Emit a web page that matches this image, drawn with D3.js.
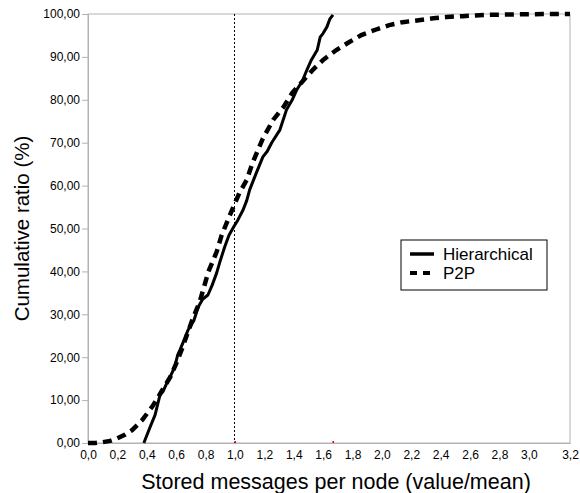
<!DOCTYPE html>
<html>
<head>
<meta charset="utf-8">
<script src="https://cdn.jsdelivr.net/npm/d3@7"></script>
<style>
  body { margin: 0; background: #fff; }
  text { font-family: "Liberation Sans", Arial, sans-serif; fill: #000; }
</style>
</head>
<body>
<script>
// Hierarchical CDF (solid)
const hierX = [0.38, 0.42, 0.456, 0.49, 0.51, 0.537, 0.56, 0.59, 0.61, 0.626, 0.66, 0.68, 0.72, 0.75, 0.78, 0.816, 0.845, 0.875, 0.90, 0.93, 0.96, 0.99, 1.02, 1.055, 1.08, 1.10, 1.14, 1.19, 1.22, 1.25, 1.306, 1.35, 1.39, 1.42, 1.46, 1.49, 1.52, 1.56, 1.58, 1.60, 1.626, 1.645, 1.667];
const hierY = [0, 3.5, 6.5, 11.2, 12, 14, 15.5, 17.7, 20.5, 21.7, 24.5, 26.3, 28.5, 31.7, 33.5, 34.5, 36.8, 39.6, 42.5, 45.7, 48.5, 50.3, 52, 54.3, 56.5, 59, 62.5, 66.7, 68, 70, 73, 77.6, 80, 82.3, 84.5, 87, 89.3, 91.6, 94.6, 95.5, 97, 98.8, 99.8];

// P2P CDF (dashed)
const p2pX = [0, 0.05, 0.1, 0.15, 0.2, 0.25, 0.3, 0.37, 0.44, 0.5, 0.56, 0.6, 0.64, 0.71, 0.76, 0.82, 0.875, 0.91, 0.98, 1.03, 1.08, 1.12, 1.19, 1.26, 1.33, 1.39, 1.455, 1.53, 1.6, 1.69, 1.77, 1.86, 1.97, 2.05, 2.14, 2.24, 2.35, 2.44, 2.55, 2.73, 2.9, 3.1, 3.28];
const p2pY = [0, 0, 0.2, 0.5, 1.1, 1.9, 3, 5.4, 8.6, 12, 15.4, 18.5, 22, 28.7, 32.9, 40, 44.5, 48.5, 54.3, 58.3, 61.3, 65.3, 71, 75.3, 78.3, 81.6, 84.1, 87, 89.3, 91.6, 93.3, 95.1, 96.5, 97.4, 98.1, 98.5, 99.0, 99.3, 99.5, 99.8, 99.9, 100, 100];

const seriesNames = ["Hierarchical", "P2P"];
const xMax = 3.28;
const xTickValues = [0, 0.2, 0.4, 0.6, 0.8, 1.0, 1.2, 1.4, 1.6, 1.8, 2.0, 2.2, 2.4, 2.6, 2.8, 3.0, 3.28];
const xTickLabels = ["0,0", "0,2", "0,4", "0,6", "0,8", "1,0", "1,2", "1,4", "1,6", "1,8", "2,0", "2,2", "2,4", "2,6", "2,8", "3,0", "3,2"];
const yTickValues = [0, 10, 20, 30, 40, 50, 60, 70, 80, 90, 100];
const yTickLabels = ["0,00", "10,00", "20,00", "30,00", "40,00", "50,00", "60,00", "70,00", "80,00", "90,00", "100,00"];
const meanLine = 1.0;
const axisMarks = [1.0, 1.667];

const width = 580, height = 493;
const margin = {top: 14, left: 88, right: 10, bottom: 50};
const axisColor = "#b3b3b3";

const svg = d3.select("body").append("svg")
  .attr("width", width)
  .attr("height", height);

const x = d3.scaleLinear().domain([0, xMax]).range([margin.left, width - margin.right]);
const y = d3.scaleLinear().domain([0, 100]).range([height - margin.bottom, margin.top]);

// plot frame
svg.append("rect")
  .attr("x", x(0)).attr("y", y(100))
  .attr("width", x(xMax) - x(0)).attr("height", y(0) - y(100))
  .attr("fill", "none").attr("stroke", axisColor);

// y axis
const yAxis = d3.axisLeft(y).tickValues(yTickValues)
  .tickFormat((d, i) => yTickLabels[i]).tickSize(6).tickPadding(2);
const gy = svg.append("g").attr("transform", `translate(${x(0)},0)`).call(yAxis);
gy.select(".domain").attr("stroke", axisColor);
gy.selectAll(".tick line").attr("stroke", axisColor);
gy.selectAll(".tick text").style("font-size", "12px").attr("fill", "#000");

// x axis (no tick marks)
const xAxis = d3.axisBottom(x).tickValues(xTickValues)
  .tickFormat((d, i) => xTickLabels[i]).tickSize(0).tickPadding(7);
const gx = svg.append("g").attr("transform", `translate(0,${y(0)})`).call(xAxis);
gx.select(".domain").attr("stroke", axisColor);
gx.selectAll(".tick text").style("font-size", "12px").attr("fill", "#000");

// dotted mean line
const meanX = Math.round(x(meanLine)) - 0.5;
svg.append("line")
  .attr("x1", meanX).attr("x2", meanX)
  .attr("y1", y(100)).attr("y2", y(0))
  .attr("stroke", "#000").attr("stroke-width", 1)
  .attr("stroke-dasharray", "2,2");

// small red marks on the axis
svg.selectAll(".mark").data(axisMarks).enter().append("rect")
  .attr("x", (d) => x(d) - 0.5).attr("y", y(0) - 2)
  .attr("width", 1.5).attr("height", 2)
  .attr("fill", "#e00000");

const line = d3.line().x((d) => x(d[0])).y((d) => y(d[1]));

svg.append("path")
  .datum(p2pX.map((v, i) => [v, p2pY[i]]))
  .attr("d", line)
  .attr("fill", "none").attr("stroke", "#000")
  .attr("stroke-width", 4.5).attr("stroke-dasharray", "9,6");

svg.append("path")
  .datum(hierX.map((v, i) => [v, hierY[i]]))
  .attr("d", line)
  .attr("fill", "none").attr("stroke", "#000")
  .attr("stroke-width", 3).attr("stroke-linejoin", "round");

// legend
const legend = svg.append("g").attr("transform", "translate(401,240)");
legend.append("rect")
  .attr("width", 146).attr("height", 50)
  .attr("fill", "#fff").attr("stroke", "#000");
seriesNames.forEach((name, i) => {
  const ly = 14 + i * 19;
  legend.append("line")
    .attr("x1", 9).attr("x2", 33).attr("y1", ly).attr("y2", ly)
    .attr("stroke", "#000")
    .attr("stroke-width", i === 0 ? 3.5 : 4)
    .attr("stroke-dasharray", i === 0 ? null : "7,6");
  legend.append("text")
    .attr("x", 42).attr("y", ly).attr("dy", "0.36em")
    .style("font-size", "17px")
    .text(name);
});

// axis titles
svg.append("text")
  .attr("transform", `translate(29,${(y(0) + y(100)) / 2}) rotate(-90)`)
  .attr("text-anchor", "middle")
  .style("font-size", "20.5px")
  .text("Cumulative ratio (%)");

svg.append("text")
  .attr("x", 336)
  .attr("y", 489)
  .attr("text-anchor", "middle")
  .style("font-size", "21.5px")
  .text("Stored messages per node (value/mean)");
</script>
</body>
</html>
